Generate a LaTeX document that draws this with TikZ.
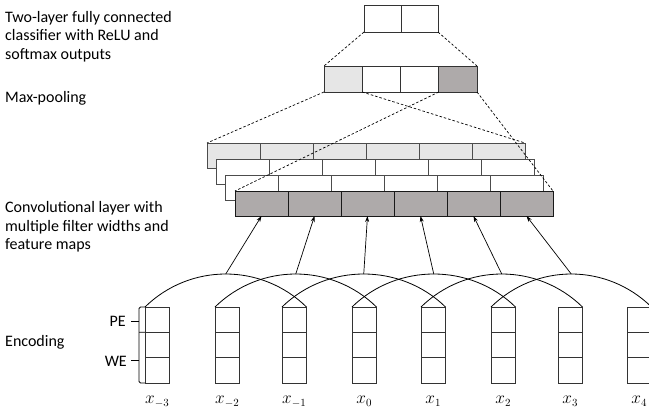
\documentclass[tikz,border=0pt]{standalone}
\usepackage{fontspec}
\setmainfont{Carlito}
\usetikzlibrary{arrows.meta}
\definecolor{lightg}{HTML}{E6E6E6}
\definecolor{darkg}{HTML}{AEAAAA}
\begin{document}
\begin{tikzpicture}[x=1pt,y=-1pt,
  txt/.style={inner sep=0pt, font=\fontsize{16}{18.5}\selectfont, align=left},
  cellbase/.style={draw, inner sep=0pt, outer sep=0pt, anchor=north west},
  topcell/.style={cellbase, draw=black!80, line width=0.9pt, minimum width=37pt, minimum height=27pt},
  poolcell/.style={cellbase, draw=black!80, line width=0.9pt, minimum width=38.25pt, minimum height=26pt},
  mapcell/.style={cellbase, draw=black!70, line width=0.9pt, minimum width=53pt, minimum height=25pt},
  incell/.style={cellbase, draw=black!80, line width=0.9pt, minimum width=24.5pt, minimum height=25.33pt},
  dashln/.style={dashed, dash pattern=on 2.5pt off 2pt, line width=0.7pt},
  arcln/.style={line width=0.8pt},
  arr/.style={line width=0.7pt, -{Stealth[length=6pt,width=4pt]}},
  bracel/.style={line width=0.8pt, rounded corners=1.5pt},
  xlab/.style={inner sep=0pt, font=\fontsize{16}{18}\selectfont, anchor=base}
]
\useasboundingbox (0,0) rectangle (649,416);
\clip (0,0) rectangle (649,416);

% left-hand labels
\node[txt, anchor=north west] (lbl1) at (5,11) {Two-layer fully connected\\classifier with ReLU and\\softmax outputs};
\node[txt, anchor=base west] (lbl2) at (5,102) {Max-pooling};
\node[txt, anchor=north west] (lbl3) at (5,201.5) {Convolutional layer with\\multiple filter widths and\\feature maps};
\node[txt, anchor=base west] (lbl4) at (5,346.5) {Encoding};

% output layer
\node[topcell] (o1) at (364,5) {};
\node[topcell] (o2) at (401,5) {};

% max-pooling layer
\node[poolcell, fill=lightg] (p1) at (324,66) {};
\node[poolcell] (p2) at (362.25,66) {};
\node[poolcell] (p3) at (400.5,66) {};
\node[poolcell, fill=darkg] (p4) at (438.75,66) {};

% feature maps
\foreach \k/\fc/\dc in {1/lightg/black!70,2/white/black!70,3/white/black!70,4/darkg/black!90}{
  \foreach \j in {1,...,6}{
    \node[mapcell, fill=\fc, draw=\dc] (m\k-\j) at ({207+9.33*(\k-1)+53*(\j-1)},{143+16*(\k-1)}) {};
  }
}

% dashed projections
\draw[dashln] (o1.south west) -- (p1.north west);
\draw[dashln] (o2.south east) -- (p4.north east);
\draw[dashln] (p1.south west) -- (m1-1.north west);
\draw[dashln] (p1.south east) -- (m1-6.north east);
\draw[dashln] (p4.south west) -- (m4-1.north west);
\draw[dashln] (p4.south east) -- (m4-6.north east);

% input encodings
\foreach \i/\xx/\lab in {1/145/-3,2/215/-2,3/282/-1,4/352/0,5/421/1,6/491/2,7/558/3,8/627/4}{
  \node[incell] (a\i) at (\xx,307) {};
  \node[incell] (b\i) at (\xx,332.33) {};
  \node[incell] (c\i) at (\xx,357.67) {};
  \node[xlab] (x\i) at ({\xx+12.25},403.5) {$x_{\lab}$};
}

% arcs and arrows
\foreach \i/\j in {1/3,2/4,3/5,4/6,5/7,6/8}{
  \draw[arcln] (a\i.north west) .. controls +(45,-44) and +(-45,-44) .. coordinate[pos=0.5] (h\i) (a\j.north east);
  \draw[arr] (h\i) -- (m4-\i.south);
}

% PE / WE brackets
\draw[bracel] (a1.north west) -- (139,307) -- (139,383) -- (c1.south west);
\draw[line width=0.8pt] (139,332.33) -- (a1.south west);
\coordinate (pet) at (139,321);
\coordinate (wet) at (139,360);
\draw[line width=0.8pt] (pet) -- ++(-8,0);
\draw[line width=0.8pt] (wet) -- ++(-8,0);
\node[txt, anchor=base east] (pe) at (126,326.5) {PE};
\node[txt, anchor=base east] (we) at (127,366) {WE};
\end{tikzpicture}
\end{document}
